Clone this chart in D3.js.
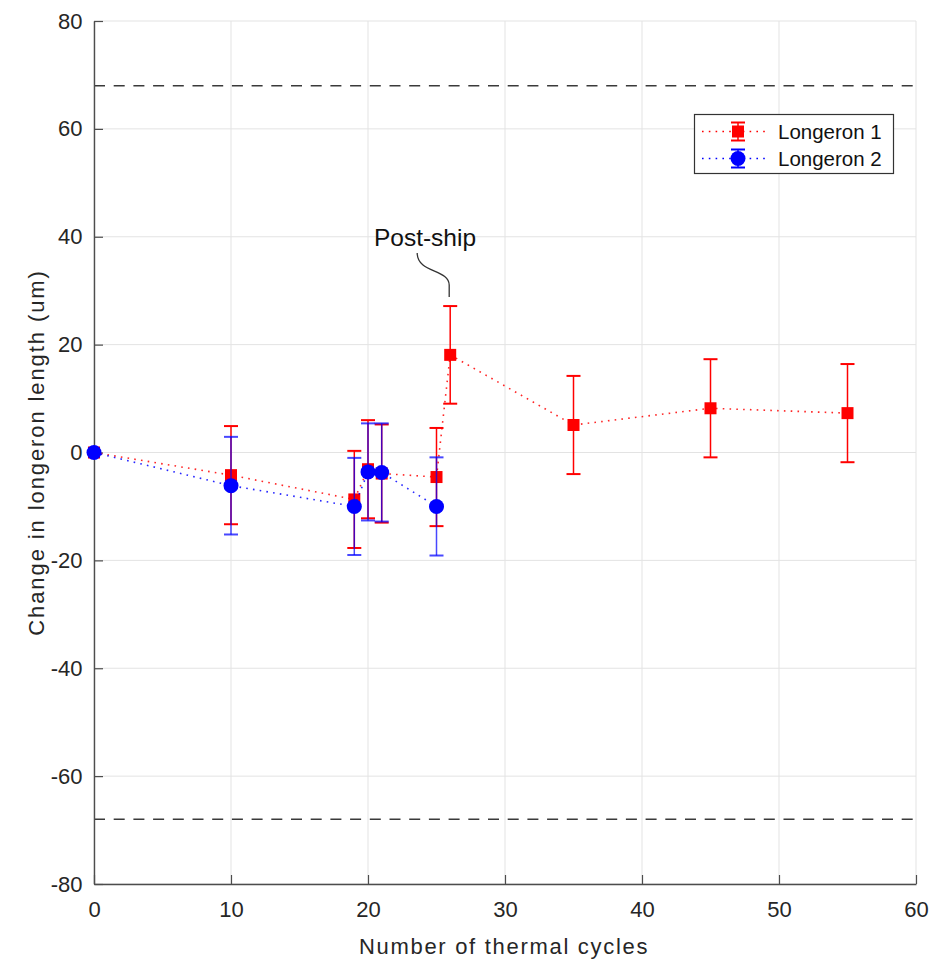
<!DOCTYPE html>
<html>
<head>
<meta charset="utf-8">
<script src="https://cdn.jsdelivr.net/npm/d3@7"></script>
<style>
  body { margin: 0; background: #fff; }
  svg { display: block; font-family: "Liberation Sans", Arial, sans-serif; }
</style>
</head>
<body>
<svg width="932" height="959"></svg>
<script>
// data
const cycles1 = [0, 10, 19, 20, 21, 25, 26, 35, 45, 55];
const change1 = [0, -4.2, -8.7, -3.1, -3.9, -4.55, 18.1, 5.1, 8.2, 7.3];
const err1    = [0, 9.1, 9.0, 9.1, 9.1, 9.1, 9.05, 9.1, 9.1, 9.1];
const cycles2 = [0, 10, 19, 20, 21, 25];
const change2 = [0, -6.15, -10.0, -3.6, -3.7, -10.0];
const err2    = [0, 9.05, 9.0, 9.0, 9.1, 9.1];
const limits  = [68, -68];
const xTicks  = [0, 10, 20, 30, 40, 50, 60];
const yTicks  = [-80, -60, -40, -20, 0, 20, 40, 60, 80];
const seriesNames = ["Longeron 1", "Longeron 2"];

const svg = d3.select("svg");
const pL = 94, pR = 916, pT = 21, pB = 884;
const x = d3.scaleLinear().domain([0, 60]).range([pL, pR]);
const y = d3.scaleLinear().domain([-80, 80]).range([pB, pT]);
const tickColor = "#262626";

// grid
svg.append("g").selectAll("line").data(xTicks).enter().append("line")
  .attr("x1", d => x(d)).attr("x2", d => x(d)).attr("y1", pT).attr("y2", pB)
  .attr("stroke", "#e3e3e3").attr("stroke-width", 1);
svg.append("g").selectAll("line").data(yTicks).enter().append("line")
  .attr("y1", d => y(d)).attr("y2", d => y(d)).attr("x1", pL).attr("x2", pR)
  .attr("stroke", "#e3e3e3").attr("stroke-width", 1);

// limit lines
svg.append("g").selectAll("line").data(limits).enter().append("line")
  .attr("x1", pL).attr("x2", pR).attr("y1", d => y(d)).attr("y2", d => y(d))
  .attr("stroke", "#3a3a3a").attr("stroke-width", 1.4).attr("stroke-dasharray", "11,8.7");

// axes (ticks inside, like matlab)
const xAxis = svg.append("g").attr("transform", "translate(0," + pB + ")")
  .call(d3.axisBottom(x).tickValues(xTicks).tickFormat(d => String(d))
    .tickSizeInner(-9).tickSizeOuter(0).tickPadding(17));
const yAxis = svg.append("g").attr("transform", "translate(" + pL + ",0)")
  .call(d3.axisLeft(y).tickValues(yTicks).tickFormat(d => String(d))
    .tickSizeInner(-9).tickSizeOuter(0).tickPadding(11.5));
[xAxis, yAxis].forEach(a => {
  a.select(".domain").attr("stroke", "#4d4d4d").attr("stroke-width", 1.4);
  a.selectAll(".tick line").attr("stroke", "#4d4d4d").attr("stroke-width", 1.2);
  a.selectAll(".tick text").attr("fill", tickColor)
    .style("font-size", "22px").style("font-family", "'Liberation Sans', Arial, sans-serif");
});

// axis labels
svg.append("text").attr("x", 504).attr("y", 954).attr("text-anchor", "middle")
  .attr("fill", tickColor).style("font-size", "22px").style("letter-spacing", "1.7px")
  .text("Number of thermal cycles");
svg.append("text").attr("transform", "translate(44," + ((pT + pB) / 2) + ") rotate(-90)")
  .attr("text-anchor", "middle").attr("fill", tickColor)
  .style("font-size", "22px").style("letter-spacing", "1.9px")
  .text("Change in longeron length (um)");

function drawSeries(xs, ys, es, color, shape, lineAlpha) {
  const pts = xs.map((d, i) => ({ x: d, y: ys[i], e: es[i] }));
  const g = svg.append("g");
  g.append("path").datum(pts)
    .attr("d", d3.line().x(d => x(d.x)).y(d => y(d.y)))
    .attr("fill", "none").attr("stroke", color).attr("stroke-width", 1.6)
    .attr("stroke-dasharray", "1.6,5.2").attr("stroke-opacity", 0.85);
  const eb = g.selectAll(".eb").data(pts.filter(d => d.e > 0)).enter().append("g")
    .attr("stroke", color).attr("stroke-width", 1.5).attr("stroke-opacity", lineAlpha);
  eb.append("line").attr("x1", d => x(d.x)).attr("x2", d => x(d.x))
    .attr("y1", d => y(d.y + d.e)).attr("y2", d => y(d.y - d.e));
  eb.append("line").attr("x1", d => x(d.x) - 7).attr("x2", d => x(d.x) + 7)
    .attr("y1", d => y(d.y + d.e)).attr("y2", d => y(d.y + d.e)).attr("stroke-width", 2);
  eb.append("line").attr("x1", d => x(d.x) - 7).attr("x2", d => x(d.x) + 7)
    .attr("y1", d => y(d.y - d.e)).attr("y2", d => y(d.y - d.e)).attr("stroke-width", 2);
  if (shape === "square") {
    g.selectAll(".m").data(pts).enter().append("rect")
      .attr("x", d => x(d.x) - 6).attr("y", d => y(d.y) - 6)
      .attr("width", 12).attr("height", 12).attr("fill", color);
  } else {
    g.selectAll(".m").data(pts).enter().append("circle")
      .attr("cx", d => x(d.x)).attr("cy", d => y(d.y)).attr("r", 7.5).attr("fill", color);
  }
}
drawSeries(cycles1, change1, err1, "#ff0000", "square", 1);
drawSeries(cycles2, change2, err2, "#0000ff", "circle", 0.72);

// annotation
const ax = x(26), ay = y(change1[6] + err1[6]) - 9;
svg.append("path")
  .attr("d", `M${ax - 33},${ay - 44} C${ax - 33},${ay - 24} ${ax - 1},${ay - 28} ${ax - 1},${ay - 12} L${ax - 1},${ay}`)
  .attr("fill", "none").attr("stroke", "#333").attr("stroke-width", 1.3);
svg.append("text").attr("x", 425).attr("y", 246).attr("text-anchor", "middle")
  .attr("fill", "#111").style("font-size", "24.5px").text("Post-ship");

// legend
const lg = svg.append("g");
lg.append("rect").attr("x", 694.5).attr("y", 114.5).attr("width", 199).attr("height", 59)
  .attr("fill", "#fff").attr("stroke", "#333").attr("stroke-width", 1.2);
const legendRows = [
  { name: seriesNames[0], color: "#ff0000", shape: "square", cy: 131.5 },
  { name: seriesNames[1], color: "#0000ff", shape: "circle", cy: 158.5 }
];
legendRows.forEach(r => {
  lg.append("line").attr("x1", 702).attr("x2", 768).attr("y1", r.cy).attr("y2", r.cy)
    .attr("stroke", r.color).attr("stroke-width", 1.6).attr("stroke-dasharray", "1.6,5.2");
  lg.append("line").attr("x1", 738).attr("x2", 738).attr("y1", r.cy - 9).attr("y2", r.cy + 9)
    .attr("stroke", r.color).attr("stroke-width", 1.5);
  [-9, 9].forEach(o => lg.append("line").attr("x1", 731).attr("x2", 745)
    .attr("y1", r.cy + o).attr("y2", r.cy + o).attr("stroke", r.color).attr("stroke-width", 2));
  if (r.shape === "square") {
    lg.append("rect").attr("x", 732).attr("y", r.cy - 6).attr("width", 12).attr("height", 12).attr("fill", r.color);
  } else {
    lg.append("circle").attr("cx", 738).attr("cy", r.cy).attr("r", 7.5).attr("fill", r.color);
  }
  lg.append("text").attr("x", 778).attr("y", r.cy + 7.5).attr("fill", "#111")
    .style("font-size", "20.5px").text(r.name);
});
</script>
</body>
</html>
